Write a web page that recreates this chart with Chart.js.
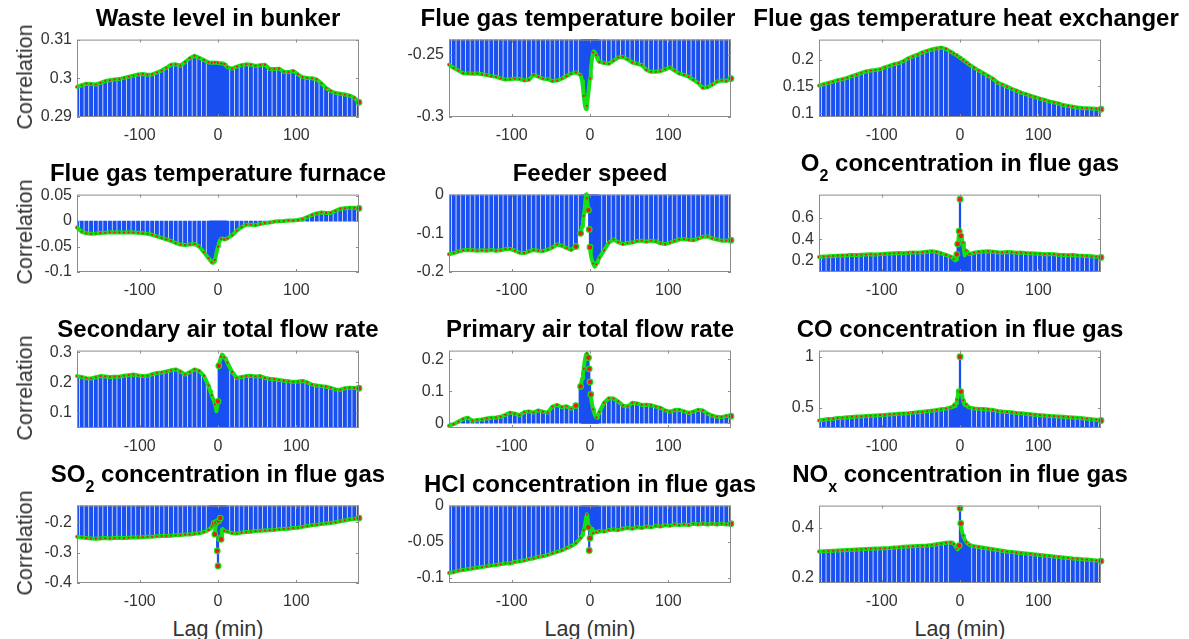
<!DOCTYPE html>
<html>
<head>
<meta charset="utf-8">
<title>Cross-correlation with CO</title>
<script src="https://cdn.jsdelivr.net/npm/chart.js@4.4.0/dist/chart.umd.min.js"></script>
<style>
  body { margin: 0; background: #fff; width: 1189px; height: 639px; position: relative; overflow: hidden;
         font-family: "Liberation Sans", Arial, sans-serif; }
  canvas { position: absolute; }
  .title { position: absolute; font-weight: bold; font-size: 24px; line-height: 24px; color: #000;
           white-space: nowrap; transform: translateX(-50%); }
  .title sub { font-size: 16px; vertical-align: -10px; line-height: 0; }
  .ylab { position: absolute; font-size: 21.5px; line-height: 22px; color: #333; white-space: nowrap;
          transform: translate(-50%, -50%) rotate(-90deg); }
  .xlab { position: absolute; font-size: 21.5px; line-height: 22px; color: #333; white-space: nowrap;
          transform: translate(-50%, -50%); }
</style>
</head>
<body>
<script>
// lag grid (min): every 6 min, every minute around zero
const LAGS = [-180,-174,-168,-162,-156,-150,-144,-138,-132,-126,-120,-114,-108,-102,-96,-90,-84,-78,-72,-66,-60,-54,-48,-42,-36,-30,-24,-18,-12,
  -10,-9,-8,-7,-6,-5,-4,-3,-2,-1,0,1,2,3,4,5,6,7,8,9,10,
  12,18,24,30,36,42,48,54,60,66,72,78,84,90,96,102,108,114,120,126,132,138,144,150,156,162,168,174,180];

const WASTE = [.2978,.2982,.2986,.2985,.2984,.2988,.2993,.2995,.2997,.2998,.3001,.3004,.3007,.3010,.3011,.3009,.3010,.3015,.3020,.3027,.3035,.3036,.3033,.3042,.3052,.3058,.3053,.3047,.3041,
  .3040,.3041,.3040,.3041,.3040,.3040,.3041,.3040,.3041,.3040,.3040,.3040,.3039,.3039,.3038,.3039,.3038,.3038,.3037,.3035,.3033,
  .3029,.3025,.3030,.3034,.3036,.3035,.3032,.3034,.3035,.3024,.3024,.3025,.3017,.3016,.3019,.3010,.3003,.3001,.3000,.2997,.2987,.2975,.2967,.2962,.2960,.2958,.2955,.2950,.2938];
const BOILER = [-.2578,-.2605,-.2625,-.2646,-.2648,-.2650,-.2648,-.2655,-.2662,-.2670,-.2675,-.2688,-.2698,-.2695,-.2690,-.2693,-.2705,-.2700,-.2660,-.2675,-.2690,-.2695,-.2710,-.2706,-.2690,-.2670,-.2650,-.2640,-.2660,
  -.2710,-.2760,-.2830,-.2880,-.2920,-.2935,-.2910,-.2860,-.2800,-.2740,-.2690,-.2620,-.2560,-.2510,-.2480,-.2470,-.2475,-.2485,-.2500,-.2520,-.2540,
  -.2555,-.2565,-.2570,-.2545,-.2520,-.2515,-.2535,-.2560,-.2570,-.2580,-.2620,-.2635,-.2635,-.2630,-.2615,-.2600,-.2625,-.2650,-.2660,-.2675,-.2700,-.2725,-.2765,-.2760,-.2740,-.2715,-.2705,-.2710,-.2690];
const HEATX = [.1515,.1540,.1565,.1590,.1615,.1635,.1660,.1690,.1720,.1750,.1780,.1795,.1805,.1820,.1855,.1885,.1915,.1935,.1975,.2025,.2061,.2095,.2135,.2165,.2190,.2210,.2225,.2200,.2150,
  .2130,.2121,.2112,.2103,.2094,.2085,.2076,.2066,.2056,.2046,.2035,.2025,.2014,.2003,.1992,.1981,.1970,.1959,.1948,.1937,.1926,
  .1905,.1850,.1795,.1745,.1695,.1645,.1570,.1535,.1495,.1455,.1420,.1385,.1355,.1325,.1300,.1270,.1245,.1220,.1200,.1180,.1150,.1135,.1120,.1105,.1095,.1090,.1085,.1080,.1073];
const FURNACE = [-.0125,-.021,-.024,-.025,-.0245,-.0235,-.023,-.022,-.0225,-.022,-.0225,-.022,-.0225,-.023,-.024,-.025,-.027,-.030,-.033,-.036,-.039,-.043,-.046,-.047,-.046,-.045,-.050,-.061,-.073,
  -.077,-.079,-.081,-.082,-.082,-.080,-.076,-.070,-.063,-.056,-.050,-.044,-.040,-.037,-.035,-.034,-.034,-.035,-.036,-.036,-.036,
  -.034,-.028,-.019,-.012,-.007,-.007,-.008,-.006,-.004,-.003,-.001,-.0005,0,.001,.001,.002,.004,.008,.012,.015,.017,.016,.016,.020,.024,.025,.026,.026,.025];
const FEEDER = [-.154,-.151,-.147,-.144,-.143,-.144,-.145,-.144,-.145,-.143,-.145,-.144,-.141,-.140,-.145,-.150,-.151,-.147,-.143,-.145,-.146,-.142,-.137,-.129,-.132,-.138,-.143,-.134,-.100,
  -.082,-.070,-.055,-.040,-.015,0,-.010,-.025,-.040,-.090,-.136,-.155,-.165,-.172,-.178,-.182,-.186,-.184,-.180,-.176,-.172,
  -.163,-.144,-.124,-.116,-.123,-.128,-.125,-.124,-.120,-.119,-.122,-.119,-.121,-.126,-.128,-.124,-.120,-.116,-.115,-.117,-.118,-.114,-.109,-.108,-.113,-.116,-.119,-.119,-.118];
const O2 = [.235,.240,.242,.245,.248,.250,.252,.255,.254,.256,.258,.260,.258,.262,.265,.268,.270,.272,.270,.275,.278,.276,.280,.285,.288,.282,.270,.255,.240,
  .230,.220,.215,.210,.205,.210,.260,.355,.400,.474,.770,.430,.409,.380,.367,.300,.250,.280,.295,.285,.275,
  .262,.275,.282,.286,.288,.285,.280,.278,.281,.279,.275,.276,.272,.270,.268,.265,.262,.263,.260,.256,.255,.252,.254,.250,.248,.245,.242,.238,.232];
const SECONDARY = [.221,.218,.214,.213,.217,.221,.220,.218,.219,.219,.222,.224,.226,.223,.221,.222,.227,.231,.233,.236,.240,.243,.236,.226,.234,.243,.238,.222,.190,
  .172,.165,.158,.150,.145,.138,.128,.118,.105,.120,.138,.255,.268,.275,.285,.292,.290,.287,.283,.280,.277,
  .265,.235,.215,.218,.221,.222,.220,.221,.215,.212,.211,.208,.206,.204,.202,.203,.205,.200,.193,.190,.188,.186,.182,.177,.176,.181,.183,.182,.181];
const PRIMARY = [-.008,-.003,.005,.013,.017,.008,.010,.012,.015,.017,.018,.020,.026,.033,.030,.025,.034,.037,.033,.040,.036,.033,.052,.057,.050,.053,.045,.055,.115,
  .140,.155,.170,.190,.205,.215,.218,.212,.205,.170,.129,.090,.068,.055,.043,.035,.028,.022,.018,.017,.022,
  .035,.064,.078,.077,.068,.055,.052,.064,.062,.057,.058,.056,.052,.048,.040,.036,.041,.042,.037,.032,.036,.042,.040,.030,.024,.020,.019,.023,.022];
const CO = [.378,.385,.392,.396,.402,.405,.410,.413,.416,.418,.421,.424,.427,.430,.433,.437,.440,.443,.447,.450,.455,.459,.463,.468,.474,.480,.488,.494,.505,
  .510,.515,.525,.535,.520,.545,.580,.610,.645,.660,1.0,.660,.650,.610,.575,.545,.530,.540,.535,.520,.512,
  .505,.496,.492,.490,.486,.480,.472,.466,.462,.458,.452,.448,.444,.440,.435,.430,.426,.423,.420,.417,.414,.411,.408,.405,.400,.395,.390,.386,.378];
const SO2 = [-.248,-.250,-.252,-.253,-.254,-.253,-.252,-.253,-.252,-.251,-.252,-.251,-.250,-.250,-.249,-.248,-.248,-.246,-.245,-.245,-.244,-.243,-.242,-.240,-.240,-.238,-.236,-.232,-.225,
  -.221,-.218,-.214,-.210,-.206,-.204,-.239,-.210,-.200,-.294,-.344,-.195,-.253,-.186,-.256,-.225,-.222,-.226,-.228,-.229,-.229,
  -.231,-.236,-.237,-.234,-.232,-.231,-.229,-.228,-.227,-.226,-.225,-.223,-.222,-.221,-.219,-.218,-.215,-.212,-.210,-.208,-.206,-.204,-.202,-.200,-.197,-.194,-.191,-.189,-.186];
const HCL = [-.093,-.092,-.090,-.089,-.088,-.087,-.086,-.085,-.084,-.083,-.082,-.081,-.080,-.080,-.078,-.077,-.076,-.074,-.073,-.071,-.070,-.068,-.066,-.064,-.062,-.059,-.056,-.052,-.045,
  -.041,-.038,-.034,-.030,-.024,-.016,-.012,-.018,-.030,-.062,-.045,-.035,-.040,-.032,-.038,-.036,-.037,-.036,-.037,-.037,-.036,
  -.035,-.036,-.034,-.033,-.034,-.032,-.031,-.032,-.030,-.031,-.029,-.030,-.028,-.029,-.027,-.028,-.026,-.027,-.026,-.027,-.025,-.026,-.025,-.026,-.025,-.026,-.025,-.026,-.025];
const NOX = [.306,.307,.308,.309,.310,.311,.312,.313,.314,.315,.316,.317,.318,.318,.319,.320,.322,.323,.325,.326,.327,.328,.329,.330,.332,.335,.338,.341,.342,
  .341,.339,.336,.332,.327,.322,.318,.315,.320,.330,.479,.419,.395,.381,.370,.362,.355,.349,.344,.340,.337,
  .333,.327,.324,.321,.318,.315,.312,.309,.306,.304,.302,.300,.298,.296,.294,.292,.290,.288,.286,.284,.282,.280,.278,.277,.275,.274,.272,.270,.268];

const SERIES = [WASTE, BOILER, HEATX, FURNACE, FEEDER, O2, SECONDARY, PRIMARY, CO, SO2, HCL, NOX];
const TITLES = ['Waste level in bunker', 'Flue gas temperature boiler', 'Flue gas temperature heat exchanger',
  'Flue gas temperature furnace', 'Feeder speed', 'O<sub>2</sub> concentration in flue gas',
  'Secondary air total flow rate', 'Primary air total flow rate', 'CO concentration in flue gas',
  'SO<sub>2</sub> concentration in flue gas', 'HCl concentration in flue gas', 'NO<sub>x</sub> concentration in flue gas'];
const Y_MIN = [0.29, -0.3, 0.0927, -0.1, -0.2, 0.097, 0.05, -0.015, 0.305, -0.4, -0.107, 0.18];
const Y_MAX = [0.31, -0.2375, 0.2375, 0.052, 0, 0.812, 0.305, 0.227, 1.06, -0.145, 0, 0.49];
const Y_TICKS = [[0.29, 0.3, 0.31], [-0.3, -0.25], [0.1, 0.15, 0.2], [-0.1, -0.05, 0, 0.05], [-0.2, -0.1, 0], [0.2, 0.4, 0.6],
  [0.1, 0.2, 0.3], [0, 0.1, 0.2], [0.5, 1], [-0.4, -0.3, -0.2], [-0.1, -0.05, 0], [0.2, 0.4]];
const X_TICKS = [-100, 0, 100];

// layout of the 3 x 4 grid (plot boxes in page pixels)
const COL_X = [77, 449, 819], ROW_Y = [37, 192, 348, 503];
const PW = 282, PH = 80, PAD_L = 60, PAD_R = 12, PAD_T = 12, PAD_B = 32;
const TITLE_SHIFT = [0, -12, 6, 0, 0, 0, 0, 0, 0, 0, 0, 0];

const BLUE = '#1a4ff0', GREEN = '#14e014', RED = '#ea1c1c', AXIS = '#333';
Chart.defaults.font.family = '"Liberation Sans", Arial, sans-serif';

// box around the axes with inward tick marks, like the MATLAB axes
const boxPlugin = {
  id: 'box',
  afterDatasetsDraw(chart) {
    const { ctx, chartArea: a, scales: { x, y } } = chart;
    ctx.save();
    ctx.strokeStyle = '#8c8c8c';
    ctx.lineWidth = 1;
    ctx.strokeRect(a.left + 0.5, a.top + 0.5, a.right - a.left - 1, a.bottom - a.top - 1);
    ctx.beginPath();
    x.ticks.forEach(t => {
      const px = Math.round(x.getPixelForValue(t.value)) + 0.5;
      ctx.moveTo(px, a.bottom); ctx.lineTo(px, a.bottom - 3);
      ctx.moveTo(px, a.top); ctx.lineTo(px, a.top + 3);
    });
    y.ticks.forEach(t => {
      const py = Math.round(y.getPixelForValue(t.value)) + 0.5;
      ctx.moveTo(a.left, py); ctx.lineTo(a.left + 3, py);
      ctx.moveTo(a.right, py); ctx.lineTo(a.right - 3, py);
    });
    ctx.stroke();
    ctx.restore();
  }
};

// a marker stands alone when its neighbours are far away on screen
function standsAlone(c) {
  const data = c.dataset.data, i = c.dataIndex, ys = c.chart.scales.y;
  if (!ys || i === undefined) return false;
  if (i === data.length - 1) return true;
  const p = ys.getPixelForValue(data[i].y);
  const prev = i > 0 ? Math.abs(ys.getPixelForValue(data[i - 1].y) - p) : 0;
  const next = Math.abs(ys.getPixelForValue(data[i + 1].y) - p);
  return Math.max(prev, next) > 10;
}

// small red dots along the green band, fewer where the lags are packed
function dotRadius(c) {
  if (standsAlone(c)) return 2.8;
  const p = c.dataset.data[c.dataIndex];
  if (!p) return 0;
  if (Math.abs(p.x) <= 10 && p.x % 4 !== 0) return 0;
  return 1.1;
}

SERIES.forEach((vals, i) => {
  const col = i % 3, row = Math.floor(i / 3);
  const cv = document.createElement('canvas');
  cv.width = PW + PAD_L + PAD_R;
  cv.height = PH + PAD_T + PAD_B;
  cv.style.width = cv.width + 'px';
  cv.style.height = cv.height + 'px';
  cv.style.left = (COL_X[col] - PAD_L) + 'px';
  cv.style.top = (ROW_Y[row] - PAD_T) + 'px';
  document.body.appendChild(cv);

  const pts = LAGS.map((lag, k) => ({ x: lag, y: vals[k] }));

  new Chart(cv, {
    type: 'bar',
    data: {
      datasets: [{
        type: 'line',
        data: pts,
        borderColor: GREEN,
        borderWidth: 4,
        borderJoinStyle: 'round',
        borderCapStyle: 'round',
        tension: 0,
        clip: false,
        segment: {
          borderColor: c => Math.abs(c.p1.y - c.p0.y) > 10 ? 'rgba(0,0,0,0)' : GREEN
        },
        pointRadius: dotRadius,
        pointBorderWidth: c => standsAlone(c) ? 1.2 : 0,
        pointBackgroundColor: RED,
        pointBorderColor: GREEN
      }, {
        data: pts.filter(p => Math.abs(p.x) > 10),
        backgroundColor: BLUE,
        barThickness: 3.3,
        grouped: false,
        clip: 0
      }, {
        data: pts.filter(p => Math.abs(p.x) <= 10),
        backgroundColor: BLUE,
        barThickness: 1.6,
        grouped: false,
        clip: 0
      }]
    },
    options: {
      responsive: false,
      animation: false,
      devicePixelRatio: 1,
      layout: { padding: { left: 0, right: PAD_R, top: PAD_T, bottom: 0 } },
      plugins: { legend: { display: false }, tooltip: { enabled: false } },
      scales: {
        x: {
          type: 'linear',
          min: -180,
          max: 180,
          offset: false,
          grid: { display: false, drawTicks: false },
          border: { display: false },
          afterBuildTicks: s => { s.ticks = X_TICKS.map(v => ({ value: v })); },
          afterFit: s => { s.height = PAD_B; },
          ticks: { padding: 9, color: AXIS, font: { size: 16 }, maxRotation: 0, autoSkip: false }
        },
        y: {
          min: Y_MIN[i],
          max: Y_MAX[i],
          grid: { display: false, drawTicks: false },
          border: { display: false },
          afterBuildTicks: s => { s.ticks = Y_TICKS[i].map(v => ({ value: v })); },
          afterFit: s => { s.width = PAD_L; },
          ticks: {
            padding: 5, color: AXIS, font: { size: 16 }, autoSkip: false,
            callback: v => String(Math.round(v * 1000) / 1000)
          }
        }
      }
    },
    plugins: [boxPlugin]
  });

  // title above each panel; titles with a subscript sit higher
  const t = document.createElement('div');
  t.className = 'title';
  t.innerHTML = TITLES[i];
  const base = ROW_Y[row] - (TITLES[i].includes('<sub>') ? 20.5 : 10.5);
  t.style.left = (COL_X[col] + PW / 2 + TITLE_SHIFT[i]) + 'px';
  t.style.top = (base - 20.3) + 'px';
  document.body.appendChild(t);

  if (col === 0) {
    const yl = document.createElement('div');
    yl.className = 'ylab';
    yl.textContent = 'Correlation';
    yl.style.left = '25px';
    yl.style.top = (ROW_Y[row] + PH / 2) + 'px';
    document.body.appendChild(yl);
  }
  if (row === 3) {
    const xl = document.createElement('div');
    xl.className = 'xlab';
    xl.textContent = 'Lag (min)';
    xl.style.left = (COL_X[col] + PW / 2) + 'px';
    xl.style.top = '629px';
    document.body.appendChild(xl);
  }
});
</script>
</body>
</html>
